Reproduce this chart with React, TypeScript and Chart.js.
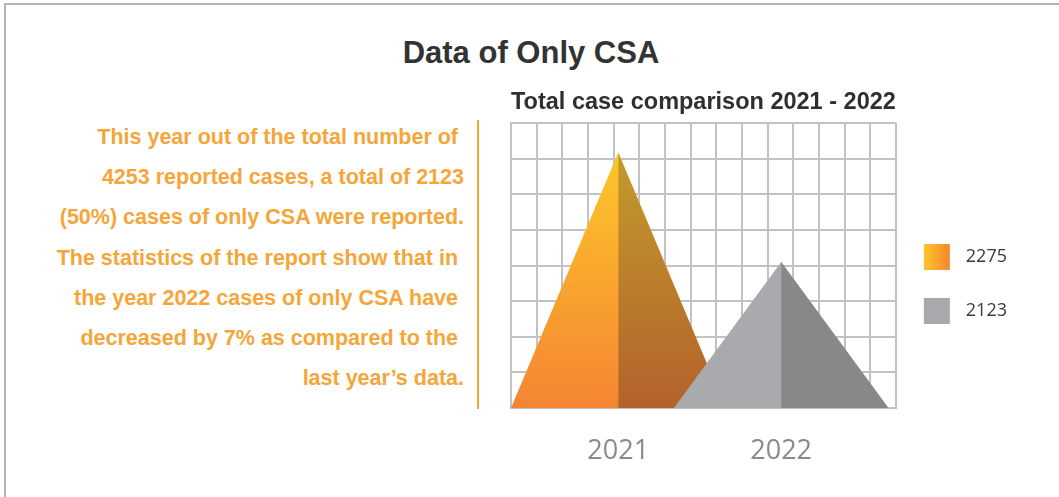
import React, { useEffect, useRef } from 'react';
import { Chart, registerables } from 'chart.js';

Chart.register(...registerables);

// ---- data ----
const years = ['2021', '2022'];
const legendValues = ['2275', '2123'];
const peakHeights = [7.17, 4.1]; // apex height, in grid rows
const peakCenters = [4.18, 10.53]; // apex x, in grid columns
const gridColumns = 15;
const gridRows = 8;
const paragraphLines = [
  'This year out of the total number of ',
  '4253 reported cases, a total of 2123',
  '(50%) cases of only CSA were reported.',
  'The statistics of the report show that in ',
  'the year 2022 cases of only CSA have ',
  'decreased by 7% as compared to the ',
  'last year\u2019s data.',
];

// ---- styles ----
const HALF_BASE = 4.18;
const SWATCH = 26;
const palette = [
  { lt: '#FEC62A', lb: '#F48533', rt: '#C29A2B', rb: '#B4622C', la: '#FEC52B', lbx: '#F6872F' },
  { lt: '#A9AAAD', lb: '#A9AAAD', rt: '#87888A', rb: '#87888A', la: '#A8A9AC', lbx: '#A8A9AC' },
];
const ORANGE_TEXT = '#F5A63A';
const FONT = '"Liberation Sans", Arial, sans-serif';

function gradientFill(which: 'left' | 'right', i: number) {
  return (ctx: any) => {
    const chart = ctx.chart;
    const p = palette[i];
    const top = which === 'left' ? p.lt : p.rt;
    const bottom = which === 'left' ? p.lb : p.rb;
    if (!chart.chartArea || !chart.scales.y) return top;
    const ys = chart.scales.y;
    const g = chart.ctx.createLinearGradient(0, ys.getPixelForValue(peakHeights[i]), 0, ys.getPixelForValue(0));
    g.addColorStop(0, top);
    g.addColorStop(1, bottom);
    return g;
  };
}

const swatchPlugin = {
  id: 'swatches',
  afterDraw(chart: any) {
    const legend = chart.legend;
    if (!legend || !legend.legendHitBoxes) return;
    const c = chart.ctx;
    legend.legendHitBoxes.forEach((hb: any, i: number) => {
      const p = palette[i];
      const top = hb.top + (hb.height - SWATCH) / 2;
      const g = c.createLinearGradient(hb.left, 0, hb.left + SWATCH, 0);
      g.addColorStop(0, p.la);
      g.addColorStop(1, p.lbx);
      c.save();
      c.fillStyle = g;
      c.fillRect(hb.left, top, SWATCH, SWATCH);
      c.restore();
    });
  },
};

export default function App() {
  const canvasRef = useRef<HTMLCanvasElement | null>(null);

  useEffect(() => {
    if (!canvasRef.current) return;
    const datasets: any[] = [];
    years.forEach((y, i) => {
      const c = peakCenters[i];
      const h = peakHeights[i];
      const order = years.length - 1 - i;
      // shaded right face (drawn above the full pyramid)
      datasets.push({
        label: y + ' shade',
        data: [{ x: c, y: h }, { x: c + HALF_BASE, y: 0 }],
        fill: 'origin',
        backgroundColor: gradientFill('right', i),
        borderColor: 'rgba(0,0,0,0)',
        borderWidth: 0,
        pointRadius: 0,
        tension: 0,
        order,
      });
      // full pyramid in the lit colour
      datasets.push({
        label: y,
        data: [{ x: c - HALF_BASE, y: 0 }, { x: c, y: h }, { x: c + HALF_BASE, y: 0 }],
        fill: 'origin',
        backgroundColor: gradientFill('left', i),
        borderColor: 'rgba(0,0,0,0)',
        borderWidth: 0,
        pointRadius: 0,
        tension: 0,
        order,
      });
    });

    const chart = new Chart(canvasRef.current, {
      type: 'line',
      data: { datasets },
      plugins: [swatchPlugin],
      options: {
        animation: false,
        responsive: false,
        maintainAspectRatio: false,
        events: [],
        layout: { padding: { left: 21, right: 0, top: 0, bottom: 0 } },
        scales: {
          x: {
            type: 'linear',
            position: 'bottom',
            min: 0,
            max: gridColumns,
            weight: 1,
            ticks: { display: false, stepSize: 1 },
            grid: { display: true, color: '#c2c2c2', lineWidth: 2, drawTicks: false },
            border: { display: true, color: '#c2c2c2', width: 2 },
            afterFit: (axis: any) => {
              axis.height = 0;
            },
          },
          xl: {
            type: 'linear',
            position: 'bottom',
            min: 0,
            max: gridColumns,
            weight: 2,
            grid: { display: false, drawTicks: false },
            border: { display: false },
            afterBuildTicks: (axis: any) => {
              axis.ticks = peakCenters.map((v) => ({ value: v }));
            },
            afterFit: (axis: any) => {
              axis.height = 72;
            },
            ticks: {
              padding: 27,
              autoSkip: false,
              maxRotation: 0,
              color: '#8a8a8a',
              font: { family: '"Open Sans", sans-serif', size: 27 },
              callback: (_v: any, idx: number) => years[idx],
            },
          },
          y: {
            type: 'linear',
            min: 0,
            max: gridRows,
            ticks: { display: false, stepSize: 1 },
            grid: { display: true, color: '#c2c2c2', lineWidth: 2, drawTicks: false },
            border: { display: true, color: '#c2c2c2', width: 2 },
          },
        },
        plugins: {
          tooltip: { enabled: false },
          title: {
            display: true,
            text: 'Total case comparison 2021 - 2022',
            fullSize: false,
            color: '#2f2f2f',
            font: { family: FONT, size: 24, weight: 'bold' },
            padding: { top: 0, bottom: 6.2 },
          },
          legend: {
            display: true,
            position: 'right',
            align: 'center',
            onClick: () => {},
            labels: {
              boxWidth: 33,
              boxHeight: SWATCH,
              padding: 28,
              color: '#3a3a3a',
              font: { family: '"Open Sans", sans-serif', size: 18 },
              generateLabels: () =>
                legendValues.map((t, i) => ({
                  text: t,
                  fillStyle: 'rgba(0,0,0,0)',
                  strokeStyle: 'rgba(0,0,0,0)',
                  lineWidth: 0,
                  hidden: false,
                  datasetIndex: i,
                  fontColor: '#3a3a3a',
                })),
            },
          },
        },
      } as any,
    });
    return () => chart.destroy();
  }, []);

  return (
    <div style={{ position: 'absolute', left: 0, top: 0, width: 1059, height: 497, background: '#fff', overflow: 'hidden' }}>
      <div
        style={{
          position: 'absolute',
          left: 4,
          top: 3,
          width: 1100,
          height: 520,
          borderTop: '2px solid #b3b3b3',
          borderLeft: '2px solid #b3b3b3',
        }}
      />
      <div
        style={{
          position: 'absolute',
          left: 331,
          top: 35,
          width: 400,
          textAlign: 'center',
          font: `bold 31px ${FONT}`,
          lineHeight: '36px',
          color: '#333333',
        }}
      >
        Data of Only CSA
      </div>
      <div
        style={{
          position: 'absolute',
          left: 0,
          top: 117,
          width: 464,
          textAlign: 'right',
          font: `bold 21.5px ${FONT}`,
          lineHeight: '40.2px',
          color: ORANGE_TEXT,
          whiteSpace: 'pre',
        }}
      >
        {paragraphLines.map((l, i) => (
          <div key={i}>{l}</div>
        ))}
      </div>
      <div style={{ position: 'absolute', left: 477, top: 120, width: 2, height: 289, background: '#F5A733' }} />
      <canvas
        ref={canvasRef}
        width={527}
        height={392}
        style={{ position: 'absolute', left: 490, top: 88, width: 527, height: 392 }}
      />
    </div>
  );
}
